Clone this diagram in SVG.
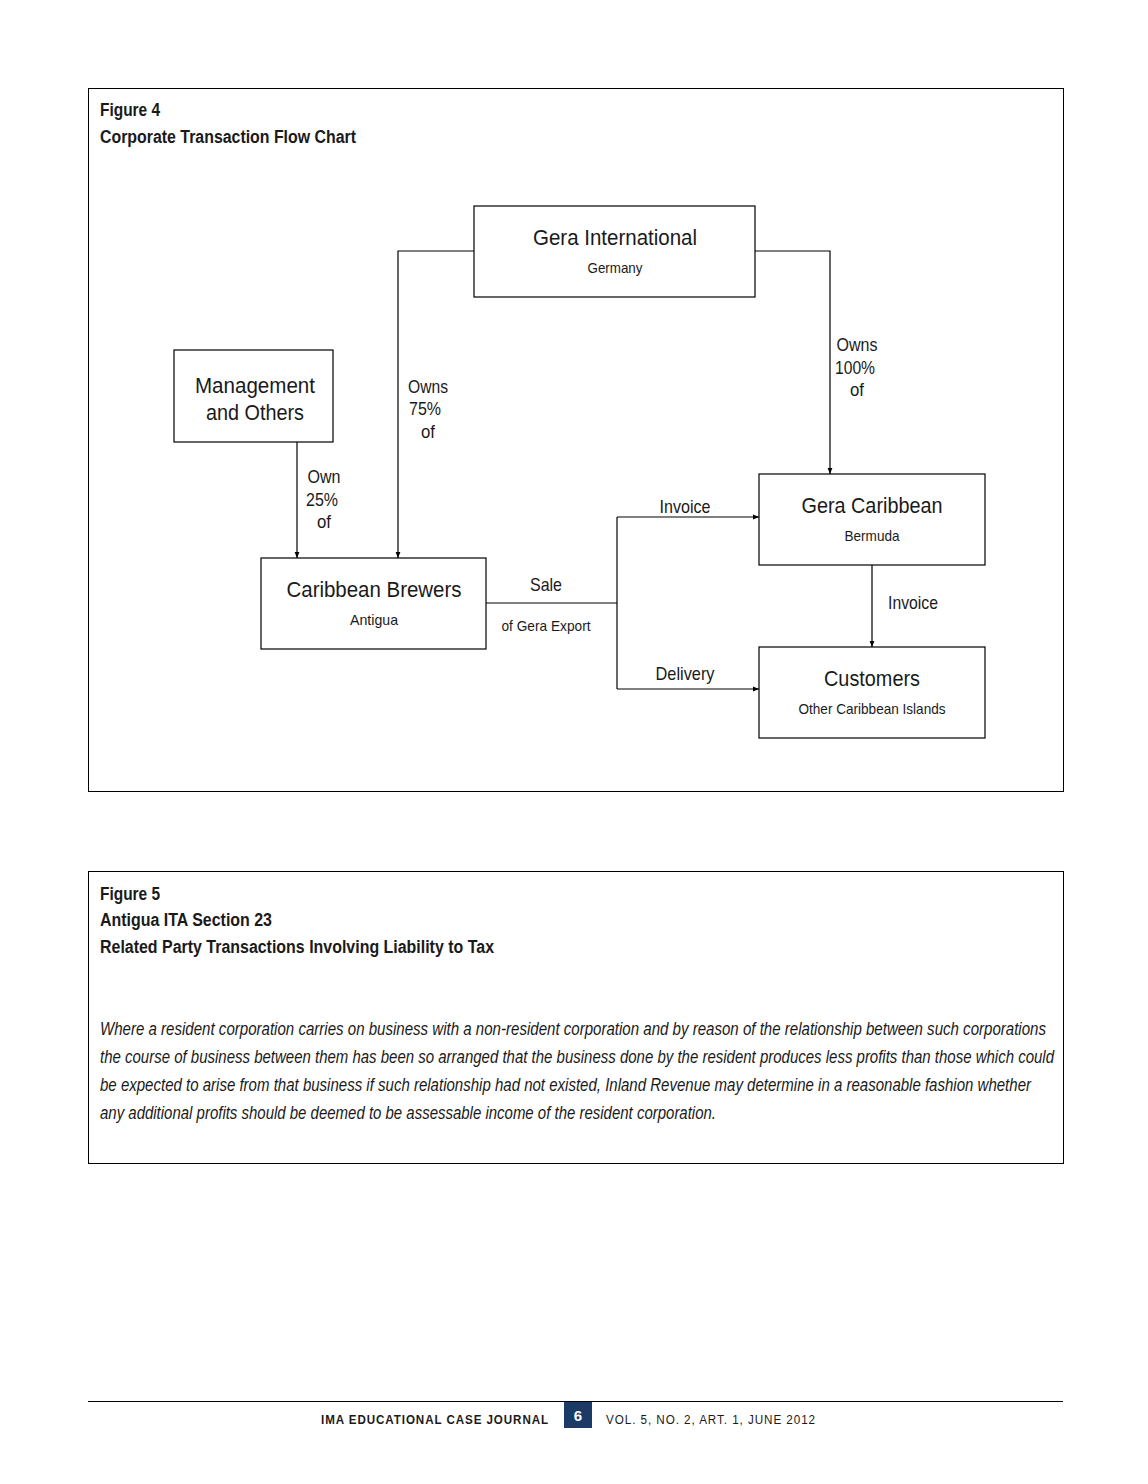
<svg xmlns="http://www.w3.org/2000/svg" width="1148" height="1484" viewBox="0 0 1148 1484">
<defs>
<marker id="ah" viewBox="0 0 10 10" refX="10" refY="5" markerWidth="6" markerHeight="6" markerUnits="userSpaceOnUse" orient="auto">
<path d="M0,1 L10,5 L0,9 Z" fill="#000"/>
</marker>
<style>
.frame{fill:#fff;stroke:#000;stroke-width:1}
.box{fill:#fff;stroke:#000;stroke-width:1.2}
.c{fill:none;stroke:#000;stroke-width:1.2}
text{font-family:"Liberation Sans Narrow","Liberation Sans",Arial,sans-serif;fill:#1a1a1a}
.t{font-size:22px;text-anchor:middle}
.s{font-size:15px;text-anchor:middle}
.l{font-size:19px;text-anchor:middle}
.h{font-size:18px;font-weight:bold}
.p{font-size:18px;font-style:italic}
.f{font-size:12.5px;font-weight:bold;letter-spacing:1px}
.v{font-size:12.5px;letter-spacing:1px}
</style>
</defs>
<rect width="1148" height="1484" fill="#fff"/>
<rect class="frame" x="88.5" y="88.5" width="975" height="703"/>
<rect class="frame" x="88.5" y="871.5" width="975" height="292"/>
<g id="titles4">
<text class="h" x="100" y="116" textLength="60" lengthAdjust="spacingAndGlyphs">Figure 4</text>
<text class="h" x="100" y="143" textLength="256" lengthAdjust="spacingAndGlyphs">Corporate Transaction Flow Chart</text>
</g>
<g id="connectors">
<polyline class="c" points="474,251 398,251 398,558" marker-end="url(#ah)"/>
<polyline class="c" points="755,251 830,251 830,474" marker-end="url(#ah)"/>
<line class="c" x1="297" y1="442" x2="297" y2="558" marker-end="url(#ah)"/>
<line class="c" x1="486" y1="603" x2="617" y2="603"/>
<line class="c" x1="617" y1="517" x2="617" y2="689"/>
<line class="c" x1="617" y1="517" x2="759" y2="517" marker-end="url(#ah)"/>
<line class="c" x1="617" y1="689" x2="759" y2="689" marker-end="url(#ah)"/>
<line class="c" x1="872" y1="565" x2="872" y2="647" marker-end="url(#ah)"/>
<text class="l" x="428" y="393" textLength="40" lengthAdjust="spacingAndGlyphs">Owns</text>
<text class="l" x="425" y="415" textLength="32" lengthAdjust="spacingAndGlyphs">75%</text>
<text class="l" x="428" y="438" textLength="14" lengthAdjust="spacingAndGlyphs">of</text>
<text class="l" x="324" y="483" textLength="33" lengthAdjust="spacingAndGlyphs">Own</text>
<text class="l" x="322" y="506" textLength="32" lengthAdjust="spacingAndGlyphs">25%</text>
<text class="l" x="324" y="528" textLength="14" lengthAdjust="spacingAndGlyphs">of</text>
<text class="l" x="857" y="351" textLength="41" lengthAdjust="spacingAndGlyphs">Owns</text>
<text class="l" x="855" y="374" textLength="40" lengthAdjust="spacingAndGlyphs">100%</text>
<text class="l" x="857" y="396" textLength="14" lengthAdjust="spacingAndGlyphs">of</text>
<text class="l" x="685" y="513" textLength="51" lengthAdjust="spacingAndGlyphs">Invoice</text>
<text class="l" x="546" y="591" textLength="32" lengthAdjust="spacingAndGlyphs">Sale</text>
<text class="s" x="546" y="631" textLength="89" lengthAdjust="spacingAndGlyphs">of Gera Export</text>
<text class="l" x="685" y="680" textLength="59" lengthAdjust="spacingAndGlyphs">Delivery</text>
<text class="l" x="913" y="609" textLength="50" lengthAdjust="spacingAndGlyphs">Invoice</text>
</g>
<g id="gera-international">
<rect class="box" x="474" y="206" width="281" height="91"/>
<text class="t" x="615" y="245" textLength="164" lengthAdjust="spacingAndGlyphs">Gera International</text>
<text class="s" x="615" y="273" textLength="55" lengthAdjust="spacingAndGlyphs">Germany</text>
</g>
<g id="management">
<rect class="box" x="174" y="350" width="159" height="92"/>
<text class="t" x="255" y="393" textLength="120" lengthAdjust="spacingAndGlyphs">Management</text>
<text class="t" x="255" y="420" textLength="98" lengthAdjust="spacingAndGlyphs">and Others</text>
</g>
<g id="gera-caribbean">
<rect class="box" x="759" y="474" width="226" height="91"/>
<text class="t" x="872" y="513" textLength="141" lengthAdjust="spacingAndGlyphs">Gera Caribbean</text>
<text class="s" x="872" y="541" textLength="55" lengthAdjust="spacingAndGlyphs">Bermuda</text>
</g>
<g id="caribbean-brewers">
<rect class="box" x="261" y="558" width="225" height="91"/>
<text class="t" x="374" y="597" textLength="175" lengthAdjust="spacingAndGlyphs">Caribbean Brewers</text>
<text class="s" x="374" y="625" textLength="48" lengthAdjust="spacingAndGlyphs">Antigua</text>
</g>
<g id="customers">
<rect class="box" x="759" y="647" width="226" height="91"/>
<text class="t" x="872" y="686" textLength="96" lengthAdjust="spacingAndGlyphs">Customers</text>
<text class="s" x="872" y="714" textLength="147" lengthAdjust="spacingAndGlyphs">Other Caribbean Islands</text>
</g>
<g id="figure5">
<text class="h" x="100" y="900" textLength="60" lengthAdjust="spacingAndGlyphs">Figure 5</text>
<text class="h" x="100" y="926" textLength="172" lengthAdjust="spacingAndGlyphs">Antigua ITA Section 23</text>
<text class="h" x="100" y="953" textLength="394" lengthAdjust="spacingAndGlyphs">Related Party Transactions Involving Liability to Tax</text>
<text class="p" x="100" y="1035" textLength="946" lengthAdjust="spacingAndGlyphs">Where a resident corporation carries on business with a non-resident corporation and by reason of the relationship between such corporations</text>
<text class="p" x="100" y="1063" textLength="954" lengthAdjust="spacingAndGlyphs">the course of business between them has been so arranged that the business done by the resident produces less profits than those which could</text>
<text class="p" x="100" y="1091" textLength="931" lengthAdjust="spacingAndGlyphs">be expected to arise from that business if such relationship had not existed, Inland Revenue may determine in a reasonable fashion whether</text>
<text class="p" x="100" y="1119" textLength="616" lengthAdjust="spacingAndGlyphs">any additional profits should be deemed to be assessable income of the resident corporation.</text>
</g>
<g id="footer">
<line x1="88" y1="1401.5" x2="1063" y2="1401.5" stroke="#000" stroke-width="1"/>
<text class="f" x="321" y="1424" textLength="228" lengthAdjust="spacingAndGlyphs">IMA EDUCATIONAL CASE JOURNAL</text>
<rect x="564" y="1402" width="28" height="26" fill="#1c3a66"/>
<text x="578" y="1421" font-size="15" font-weight="bold" text-anchor="middle" style="fill:#fff;font-family:'Liberation Sans',Arial,sans-serif">6</text>
<text class="v" x="606" y="1424" textLength="210" lengthAdjust="spacingAndGlyphs">VOL. 5, NO. 2, ART. 1, JUNE 2012</text>
</g>
</svg>
